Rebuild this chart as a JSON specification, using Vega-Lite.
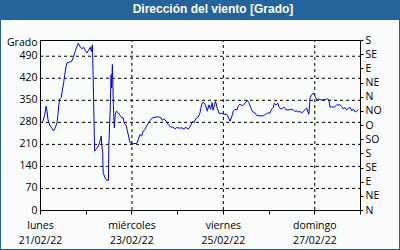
{
"$schema": "https://vega.github.io/schema/vega-lite/v6.json",
"width": 398, "height": 229,
"autosize": "none",
"padding": {"left": 1, "top": 20, "right": 1, "bottom": 1},
"background": "#24639c",
"title": {"text": "Dirección del viento [Grado]", "color": "white", "font": "Liberation Sans", "fontSize": 12, "fontWeight": "bold", "anchor": "middle", "offset": 4, "dx": 13},
"config": {
  "view": {"fill": "#fbfdfd", "stroke": null},
  "axis": {"labelFont": "Open Sans", "labelFontSize": 10.5, "labelColor": "black", "titleFont": "Open Sans", "titleFontSize": 10.5, "titleFontWeight": "normal", "titleColor": "black", "domainColor": "black", "tickColor": "black", "grid": false, "labelOverlap": false, "labelFlush": false, "labelBound": false}
},
"encoding": {
  "x": {"field": "t", "type": "temporal",
    "scale": {"domain": [{"year": 2022, "month": 2, "date": 21}, {"year": 2022, "month": 2, "date": 28}], "range": [39, 359]},
    "axis": {"title": null, "offset": -39, "orient": "bottom",
      "values": [{"year": 2022, "month": 2, "date": 21}, {"year": 2022, "month": 2, "date": 22}, {"year": 2022, "month": 2, "date": 23}, {"year": 2022, "month": 2, "date": 24}, {"year": 2022, "month": 2, "date": 25}, {"year": 2022, "month": 2, "date": 26}, {"year": 2022, "month": 2, "date": 27}, {"year": 2022, "month": 2, "date": 28}],
      "labelExpr": "date(datum.value) % 2 == 1 ? [['domingo','lunes','martes','miércoles','jueves','viernes','sábado'][day(datum.value)], timeFormat(datum.value, '%d/%m/%y')] : ''",
      "labelLineHeight": 15, "labelPadding": 6, "tickSize": 4, "labelAlign": "center", "labelBaseline": "top"}
  }
},
"layer": [
  {
    "data": {"values": [
      {"t": "2022-02-21T00:00", "t2": "2022-02-28T00:00", "v": 70},
      {"t": "2022-02-21T00:00", "t2": "2022-02-28T00:00", "v": 140},
      {"t": "2022-02-21T00:00", "t2": "2022-02-28T00:00", "v": 210},
      {"t": "2022-02-21T00:00", "t2": "2022-02-28T00:00", "v": 280},
      {"t": "2022-02-21T00:00", "t2": "2022-02-28T00:00", "v": 350},
      {"t": "2022-02-21T00:00", "t2": "2022-02-28T00:00", "v": 420},
      {"t": "2022-02-21T00:00", "t2": "2022-02-28T00:00", "v": 490}
    ]},
    "mark": {"type": "rule", "color": "black", "strokeWidth": 1, "strokeDash": [3, 3], "yOffset": 0.5},
    "encoding": {
      "x2": {"field": "t2"},
      "y": {"field": "v", "type": "quantitative", "axis": null}
    }
  },
  {
    "data": {"values": [
      {"t": "2022-02-23T00:00", "v": 0, "v2": 540},
      {"t": "2022-02-25T00:00", "v": 0, "v2": 540},
      {"t": "2022-02-27T00:00", "v": 0, "v2": 540}
    ]},
    "mark": {"type": "rule", "color": "black", "strokeWidth": 1, "strokeDash": [3, 3], "xOffset": 0.5},
    "encoding": {
      "y": {"field": "v", "type": "quantitative", "axis": null},
      "y2": {"field": "v2"}
    }
  },
  {
    "data": {"values": [
{"t":"2022-02-21T00:20","v":277},{"t":"2022-02-21T01:25","v":280},{"t":"2022-02-21T02:30","v":303},{"t":"2022-02-21T03:10","v":330},{"t":"2022-02-21T03:40","v":315},{"t":"2022-02-21T04:10","v":288},{"t":"2022-02-21T05:05","v":270},{"t":"2022-02-21T06:20","v":259},{"t":"2022-02-21T07:10","v":251},{"t":"2022-02-21T08:00","v":261},{"t":"2022-02-21T08:55","v":277},{"t":"2022-02-21T09:25","v":303},{"t":"2022-02-21T10:00","v":340},{"t":"2022-02-21T10:30","v":354},{"t":"2022-02-21T11:10","v":358},{"t":"2022-02-21T11:40","v":377},{"t":"2022-02-21T12:25","v":404},{"t":"2022-02-21T13:00","v":430},{"t":"2022-02-21T13:40","v":457},{"t":"2022-02-21T14:10","v":467},{"t":"2022-02-21T15:35","v":470},{"t":"2022-02-21T16:50","v":474},{"t":"2022-02-21T17:40","v":488},{"t":"2022-02-21T18:30","v":504},{"t":"2022-02-21T19:25","v":520},{"t":"2022-02-21T20:05","v":530},{"t":"2022-02-21T21:00","v":520},{"t":"2022-02-21T21:55","v":512},{"t":"2022-02-21T22:55","v":517},{"t":"2022-02-21T23:50","v":506},
{"t":"2022-02-22T00:40","v":499},{"t":"2022-02-22T01:35","v":509},{"t":"2022-02-22T02:25","v":517},{"t":"2022-02-22T02:55","v":504},{"t":"2022-02-22T03:30","v":525},{"t":"2022-02-22T03:50","v":441},{"t":"2022-02-22T04:40","v":187},{"t":"2022-02-22T06:05","v":198},{"t":"2022-02-22T07:10","v":211},{"t":"2022-02-22T07:55","v":230},{"t":"2022-02-22T08:10","v":235},{"t":"2022-02-22T08:25","v":208},{"t":"2022-02-22T08:55","v":182},{"t":"2022-02-22T09:10","v":119},{"t":"2022-02-22T10:05","v":103},{"t":"2022-02-22T11:00","v":94},{"t":"2022-02-22T11:55","v":94},{"t":"2022-02-22T12:10","v":208},{"t":"2022-02-22T12:45","v":303},{"t":"2022-02-22T13:20","v":430},{"t":"2022-02-22T13:35","v":388},{"t":"2022-02-22T14:00","v":462},{"t":"2022-02-22T14:30","v":335},{"t":"2022-02-22T15:00","v":261},{"t":"2022-02-22T15:30","v":303},{"t":"2022-02-22T16:05","v":314},{"t":"2022-02-22T17:05","v":309},{"t":"2022-02-22T18:00","v":301},{"t":"2022-02-22T18:55","v":293},{"t":"2022-02-22T19:40","v":293},{"t":"2022-02-22T20:20","v":274},{"t":"2022-02-22T21:10","v":270},{"t":"2022-02-22T21:50","v":253},{"t":"2022-02-22T22:35","v":232},{"t":"2022-02-22T23:15","v":214},
{"t":"2022-02-23T01:00","v":211},{"t":"2022-02-23T02:50","v":211},{"t":"2022-02-23T03:35","v":224},{"t":"2022-02-23T04:30","v":240},{"t":"2022-02-23T05:25","v":235},{"t":"2022-02-23T06:10","v":251},{"t":"2022-02-23T07:05","v":256},{"t":"2022-02-23T08:00","v":267},{"t":"2022-02-23T08:55","v":277},{"t":"2022-02-23T09:45","v":284},{"t":"2022-02-23T10:35","v":291},{"t":"2022-02-23T12:25","v":295},{"t":"2022-02-23T14:05","v":296},{"t":"2022-02-23T15:30","v":293},{"t":"2022-02-23T16:10","v":285},{"t":"2022-02-23T17:05","v":290},{"t":"2022-02-23T18:10","v":282},{"t":"2022-02-23T19:25","v":271},{"t":"2022-02-23T20:35","v":263},{"t":"2022-02-23T21:40","v":264},{"t":"2022-02-23T22:55","v":258},{"t":"2022-02-23T23:50","v":262},
{"t":"2022-02-24T01:05","v":260},{"t":"2022-02-24T02:25","v":261},{"t":"2022-02-24T03:35","v":258},{"t":"2022-02-24T04:40","v":263},{"t":"2022-02-24T05:30","v":257},{"t":"2022-02-24T06:25","v":261},{"t":"2022-02-24T07:20","v":271},{"t":"2022-02-24T08:10","v":282},{"t":"2022-02-24T08:50","v":277},{"t":"2022-02-24T09:55","v":291},{"t":"2022-02-24T11:05","v":295},{"t":"2022-02-24T12:00","v":309},{"t":"2022-02-24T12:30","v":325},{"t":"2022-02-24T13:10","v":341},{"t":"2022-02-24T14:05","v":341},{"t":"2022-02-24T15:00","v":331},{"t":"2022-02-24T15:50","v":314},{"t":"2022-02-24T16:40","v":334},{"t":"2022-02-24T17:35","v":320},{"t":"2022-02-24T18:20","v":341},{"t":"2022-02-24T18:50","v":317},{"t":"2022-02-24T19:40","v":336},{"t":"2022-02-24T20:10","v":345},{"t":"2022-02-24T21:05","v":323},{"t":"2022-02-24T22:00","v":307},{"t":"2022-02-24T23:25","v":307},
{"t":"2022-02-25T00:35","v":304},{"t":"2022-02-25T02:00","v":304},{"t":"2022-02-25T02:55","v":295},{"t":"2022-02-25T03:45","v":282},{"t":"2022-02-25T04:35","v":295},{"t":"2022-02-25T05:30","v":314},{"t":"2022-02-25T06:25","v":320},{"t":"2022-02-25T07:20","v":317},{"t":"2022-02-25T08:05","v":331},{"t":"2022-02-25T09:00","v":336},{"t":"2022-02-25T10:10","v":331},{"t":"2022-02-25T11:35","v":338},{"t":"2022-02-25T12:50","v":349},{"t":"2022-02-25T13:40","v":341},{"t":"2022-02-25T14:35","v":325},{"t":"2022-02-25T15:40","v":312},{"t":"2022-02-25T16:55","v":308},{"t":"2022-02-25T17:50","v":300},{"t":"2022-02-25T19:30","v":299},{"t":"2022-02-25T21:10","v":299},{"t":"2022-02-25T22:30","v":304},{"t":"2022-02-25T23:30","v":308},
{"t":"2022-02-26T00:45","v":308},{"t":"2022-02-26T01:35","v":320},{"t":"2022-02-26T02:30","v":326},{"t":"2022-02-26T03:00","v":339},{"t":"2022-02-26T03:55","v":334},{"t":"2022-02-26T04:50","v":339},{"t":"2022-02-26T05:35","v":326},{"t":"2022-02-26T06:30","v":320},{"t":"2022-02-26T07:25","v":324},{"t":"2022-02-26T08:20","v":326},{"t":"2022-02-26T09:10","v":318},{"t":"2022-02-26T10:25","v":318},{"t":"2022-02-26T11:50","v":320},{"t":"2022-02-26T13:00","v":318},{"t":"2022-02-26T13:55","v":313},{"t":"2022-02-26T14:50","v":315},{"t":"2022-02-26T15:35","v":311},{"t":"2022-02-26T16:30","v":313},{"t":"2022-02-26T17:25","v":308},{"t":"2022-02-26T18:10","v":313},{"t":"2022-02-26T19:05","v":318},{"t":"2022-02-26T20:00","v":324},{"t":"2022-02-26T20:55","v":308},{"t":"2022-02-26T21:10","v":304},{"t":"2022-02-26T21:45","v":357},{"t":"2022-02-26T22:35","v":366},{"t":"2022-02-26T23:30","v":371},
{"t":"2022-02-27T00:25","v":361},{"t":"2022-02-27T01:20","v":350},{"t":"2022-02-27T02:05","v":353},{"t":"2022-02-27T03:00","v":350},{"t":"2022-02-27T03:55","v":350},{"t":"2022-02-27T05:05","v":350},{"t":"2022-02-27T06:10","v":352},{"t":"2022-02-27T07:00","v":353},{"t":"2022-02-27T07:40","v":350},{"t":"2022-02-27T08:15","v":326},{"t":"2022-02-27T09:05","v":329},{"t":"2022-02-27T10:00","v":326},{"t":"2022-02-27T10:55","v":329},{"t":"2022-02-27T11:50","v":334},{"t":"2022-02-27T12:35","v":334},{"t":"2022-02-27T13:30","v":334},{"t":"2022-02-27T14:25","v":329},{"t":"2022-02-27T15:10","v":321},{"t":"2022-02-27T16:05","v":326},{"t":"2022-02-27T17:00","v":318},{"t":"2022-02-27T17:55","v":324},{"t":"2022-02-27T18:45","v":326},{"t":"2022-02-27T19:40","v":315},{"t":"2022-02-27T20:30","v":321},{"t":"2022-02-27T21:25","v":311},{"t":"2022-02-27T22:20","v":315},{"t":"2022-02-27T23:05","v":318}
    ]},
    "mark": {"type": "line", "color": "#0000ff", "strokeWidth": 1},
    "encoding": {
      "y": {"field": "v", "type": "quantitative",
        "scale": {"domain": [0, 540], "range": [190, 20], "nice": false, "zero": false},
        "axis": {"orient": "left", "offset": -39, "values": [0, 70, 140, 210, 280, 350, 420, 490], "ticks": false, "labelPadding": 3,
          "title": "Grado", "titleAngle": 0, "titleAlign": "right", "titleBaseline": "middle", "titleX": -3, "titleY": 22}}
    }
  },
  {
    "data": {"values": [{"t": "2022-02-21T00:00", "t2": "2022-02-28T00:00", "v": 540}]},
    "mark": {"type": "rule", "color": "black", "strokeWidth": 1, "yOffset": 0.5},
    "encoding": {
      "x2": {"field": "t2"},
      "y": {"field": "v", "type": "quantitative",
        "axis": {"orient": "right", "offset": -39, "title": null, "values": [0, 45, 90, 135, 180, 225, 270, 315, 360, 405, 450, 495, 540],
          "labelExpr": "['N','NE','E','SE','S','SO','O','NO'][(datum.value / 45) % 8]", "tickSize": 3, "labelPadding": 2}}
    }
  }
],
"resolve": {"axis": {"y": "independent"}}
}
